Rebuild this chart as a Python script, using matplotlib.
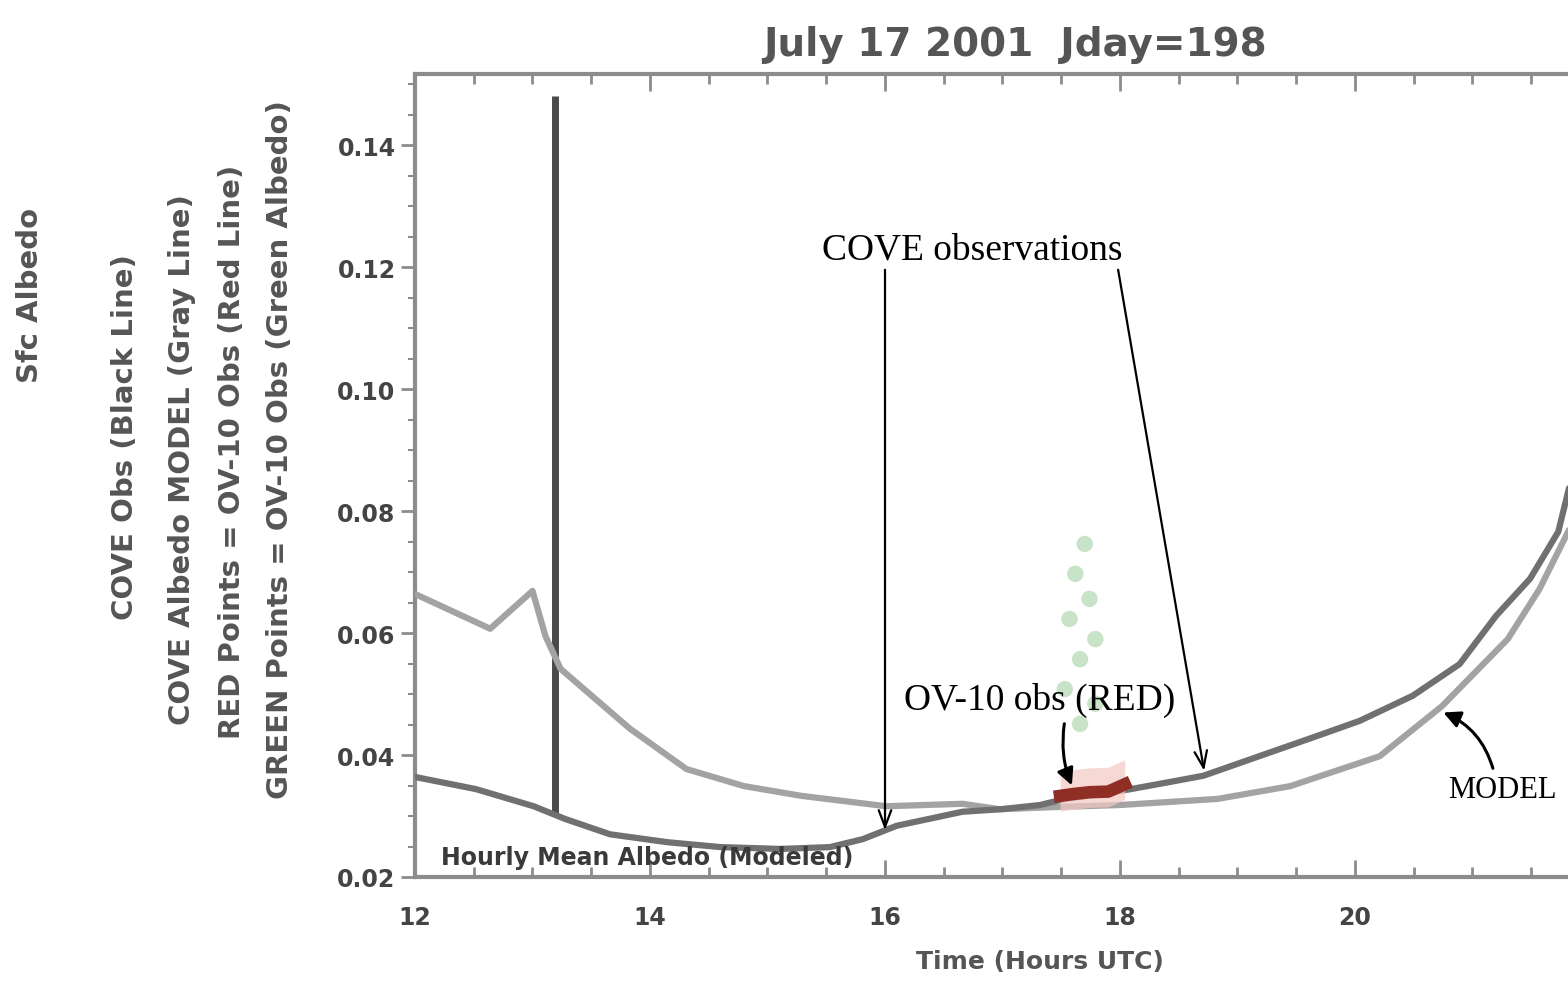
import numpy as np
import matplotlib
matplotlib.use("Agg")
import matplotlib.pyplot as plt

# Surface albedo over the day, 17 July 2001 (hours UTC)
cove_time = [12.00, 12.52, 13.01, 13.28, 13.66, 14.15, 14.60, 15.11, 15.53, 15.81,
             16.10, 16.66, 16.98, 17.32, 17.53, 17.83, 18.09, 18.43, 18.71, 19.11,
             19.66, 20.04, 20.49, 20.89, 21.20, 21.49, 21.73, 21.85]
cove_albedo = [0.0364, 0.0344, 0.0316, 0.0295, 0.0270, 0.0257, 0.0249, 0.0246, 0.0249, 0.0262,
               0.0284, 0.0307, 0.0311, 0.0318, 0.0328, 0.0336, 0.0344, 0.0356, 0.0366, 0.0393,
               0.0430, 0.0456, 0.0497, 0.0549, 0.0628, 0.0689, 0.0766, 0.0860]

model_time = [12.00, 12.64, 13.00, 13.11, 13.24, 13.83, 14.31, 14.80, 15.29, 16.01,
              16.66, 16.98, 17.49, 18.00, 18.83, 19.45, 20.21, 20.74, 21.30, 21.57, 21.85]
model_albedo = [0.0664, 0.0607, 0.0669, 0.0595, 0.0541, 0.0443, 0.0377, 0.0349, 0.0333, 0.0316,
                0.0320, 0.0311, 0.0315, 0.0318, 0.0328, 0.0349, 0.0398, 0.0480, 0.0590, 0.0672, 0.0780]

ov10_red_time = [17.49, 17.60, 17.74, 17.90, 18.04]
ov10_red_albedo = [0.0333, 0.0336, 0.0339, 0.0340, 0.0352]

ov10_green_time = [17.70, 17.62, 17.74, 17.57, 17.79, 17.66, 17.53, 17.79, 17.66]
ov10_green_albedo = [0.0746, 0.0697, 0.0656, 0.0623, 0.0590, 0.0557, 0.0508, 0.0484, 0.0451]

marker_time = 13.19
marker_range = (0.0305, 0.148)

x_ticks = [12, 14, 16, 18, 20, 22]
y_ticks = [0.02, 0.04, 0.06, 0.08, 0.10, 0.12, 0.14]
y_ticklabels = ["0.02", "0.04", "0.06", "0.08", "0.10", "0.12", "0.14"]

title = "July 17 2001  Jday=198"
x_label = "Time (Hours UTC)"
y_label_lines = [
    "Sfc Albedo",
    "COVE Obs (Black Line)",
    "COVE Albedo MODEL (Gray Line)",
    "RED Points = OV-10 Obs (Red Line)",
    "GREEN Points = OV-10 Obs (Green Albedo)",
]
band_text = "Hourly Mean Albedo (Modeled)"

W, H = 1568, 987
fig = plt.figure(figsize=(W / 100, H / 100), dpi=100)
fig.patch.set_facecolor("white")

x0, x1 = 12.0, 22.5
ax_left = 415 / W
ax_bottom = (H - 878) / H
ax_height = (878 - 75) / H
ax_width = (x1 - x0) * 117.5 / W
ax = fig.add_axes([ax_left, ax_bottom, ax_width, ax_height])
ax.set_xlim(x0, x1)
ax.set_ylim(0.02, 0.02 + 803 / 6100)

spine_col = "#8c8c8c"
for s in ax.spines.values():
    s.set_color(spine_col)
    s.set_linewidth(3)
ax.spines["right"].set_visible(False)

tick_font = dict(fontsize=17, fontweight="bold", color="#444444")
ax.set_xticks(x_ticks)
ax.set_xticklabels([str(t) for t in x_ticks], **tick_font)
ax.set_xticks(np.arange(12, 22.6, 0.5), minor=True)
ax.set_yticks(y_ticks)
ax.set_yticklabels(y_ticklabels, **tick_font)
ax.set_yticks(np.arange(0.02, 0.152, 0.005), minor=True)
ax.tick_params(axis="x", which="major", direction="in", length=12, width=2,
               color=spine_col, top=True, pad=20)
ax.tick_params(axis="x", which="minor", direction="in", length=7, width=2,
               color=spine_col, top=True)
ax.tick_params(axis="y", which="major", direction="out", length=10, width=2,
               color=spine_col, pad=4)
ax.tick_params(axis="y", which="minor", direction="out", length=5, width=1.5,
               color=spine_col)

# Model and COVE curves
ax.plot(model_time, model_albedo, color="#a3a3a3", lw=4.5, solid_capstyle="round", zorder=3)
ax.plot(cove_time, cove_albedo, color="#707070", lw=4.5, solid_capstyle="round", zorder=4)

# vertical marker
ax.vlines(marker_time, *marker_range, color="#4a4a4a", lw=5, zorder=2)

# OV-10 observations
ax.fill_between(ov10_red_time, np.array(ov10_red_albedo) - 0.0025,
                np.array(ov10_red_albedo) + 0.004, color="#f3c9c4", alpha=0.7, lw=0, zorder=4)
ax.plot(ov10_red_time, ov10_red_albedo, color="#8e2e24", lw=9, zorder=5)
ax.scatter(ov10_green_time, ov10_green_albedo, s=140, color="#9ccc9c", alpha=0.55,
           edgecolors="none", zorder=2)

ax.text(12.22, 0.0233, band_text, fontsize=17, fontweight="bold", color="#3a3a3a",
        va="center", ha="left", zorder=6)

fig.text(1015 / W, 1 - 45 / H, title, fontsize=28, fontweight="bold", color="#555555",
         ha="center", va="center")
fig.text(1040 / W, 1 - 962 / H, x_label, fontsize=18, fontweight="bold", color="#555555",
         ha="center", va="center")

label_x = [30, 125, 182, 232, 280]
label_y = [295, 437, 460, 452, 450]
for xp, yp, txt in zip(label_x, label_y, y_label_lines):
    fig.text(xp / W, 1 - yp / H, txt, rotation=90, fontsize=21, fontweight="bold",
             color="#555555", ha="center", va="center")

# Annotations
serif = "Liberation Serif"
ax.text(12 + (972 - 415) / 117.5, 0.02 + (878 - 250) / 6100, "COVE observations",
        fontsize=27, family=serif, ha="center", va="center", zorder=7)
cove_tip1 = (16.0, float(np.interp(16.0, cove_time, cove_albedo)) - 0.0004)
cove_tip2 = (18.72, float(np.interp(18.72, cove_time, cove_albedo)) + 0.0003)
arrow_open = dict(arrowstyle="->,head_length=1.2,head_width=0.45", color="black", lw=1.6)
ax.annotate("", xy=cove_tip1, xytext=(16.0, 0.02 + (878 - 268) / 6100),
            arrowprops=arrow_open, zorder=7)
ax.annotate("", xy=cove_tip2, xytext=(17.98, 0.02 + (878 - 268) / 6100),
            arrowprops=arrow_open, zorder=7)

ax.text(12 + (1040 - 415) / 117.5, 0.02 + (878 - 700) / 6100, "OV-10 obs (RED)",
        fontsize=27, family=serif, ha="center", va="center", zorder=7)
ax.annotate("", xy=(ov10_red_time[1], ov10_red_albedo[1] + 0.001),
            xytext=(17.53, 0.02 + (878 - 722) / 6100),
            arrowprops=dict(arrowstyle="-|>,head_length=1.0,head_width=0.5", color="black",
                            lw=2.2, connectionstyle="arc3,rad=0.15"), zorder=7)

ax.text(12 + (1448 - 415) / 117.5, 0.02 + (878 - 790) / 6100, "MODEL", fontsize=22,
        family=serif, ha="left", va="center", zorder=7)
model_tip = (20.73, float(np.interp(20.73, model_time, model_albedo)) - 0.0007)
ax.annotate("", xy=model_tip, xytext=(21.18, 0.02 + (878 - 772) / 6100),
            arrowprops=dict(arrowstyle="-|>,head_length=1.0,head_width=0.5", color="black",
                            lw=2.2, connectionstyle="arc3,rad=0.25"), zorder=7)

fig.savefig("out.png", dpi=100)
